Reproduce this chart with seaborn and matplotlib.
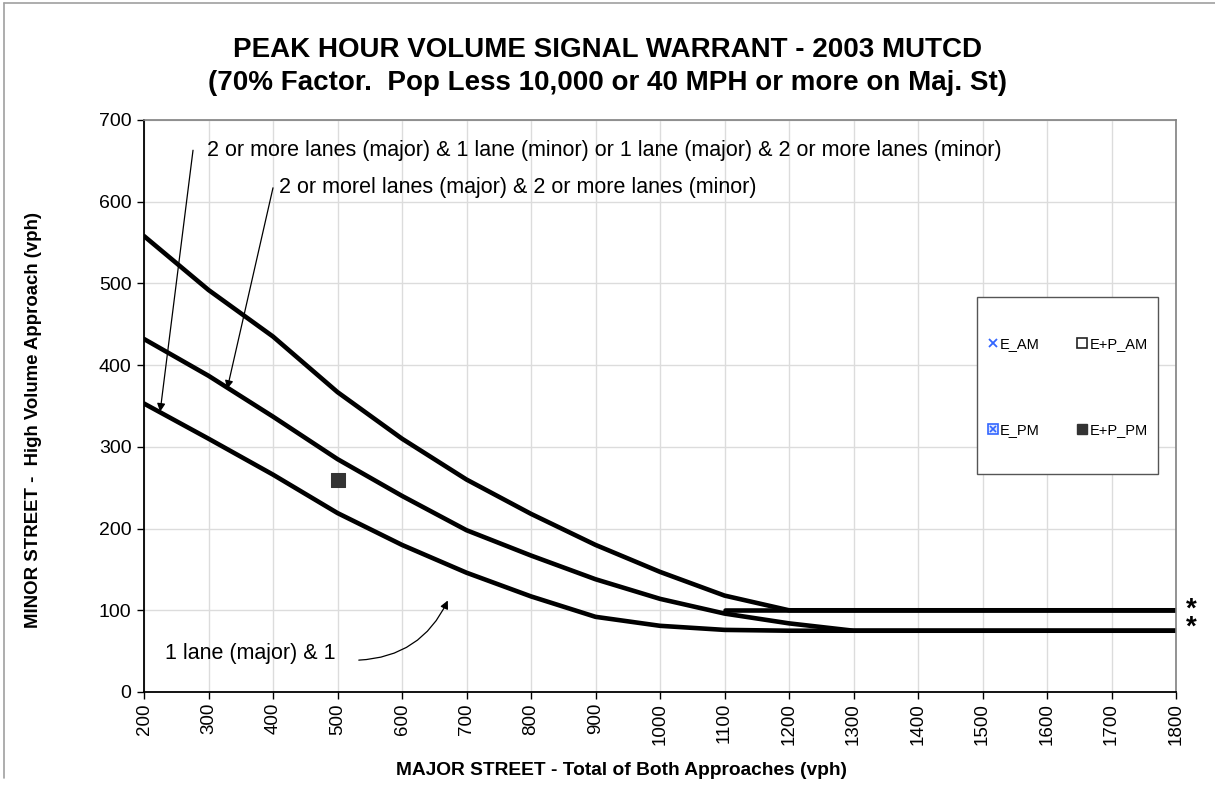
import matplotlib
matplotlib.use("Agg")
import matplotlib.pyplot as plt
from matplotlib.lines import Line2D
from matplotlib.patches import Rectangle
from matplotlib.legend_handler import HandlerTuple
import seaborn as sns
import pandas as pd

# Major street volume (vph), both approaches
major_vph = [200, 300, 400, 500, 600, 700, 800, 900, 1000,
             1100, 1200, 1300, 1400, 1500, 1600, 1700, 1800]
# Minor street high-volume approach thresholds (vph), 70% factor curves
curve_upper = [558, 492, 435, 367, 310, 260, 218, 180, 147,
               118, 100, 100, 100, 100, 100, 100, 100]
curve_middle = [432, 387, 337, 285, 240, 198, 167, 138, 114,
                96, 84, 75, 75, 75, 75, 75, 75]
curve_lower = [353, 310, 266, 219, 180, 146, 117, 92, 81,
               76, 75, 75, 75, 75, 75, 75, 75]
# Lower threshold segment
floor_major = [1100, 1800]
floor_minor = [100, 100]

# Observed intersection volume (E+P PM)
obs_major = [500]
obs_minor = [260]

sns.set_theme(style="white")
plt.rcParams["font.family"] = ["Liberation Sans", "DejaVu Sans"]
plt.rcParams.update({"text.color": "black", "axes.labelcolor": "black",
                     "xtick.color": "black", "ytick.color": "black"})

W, H = 1215, 788
fig = plt.figure(figsize=(W / 100, H / 100), dpi=100)
ax = fig.add_axes([144 / W, 1 - 692 / H, 1032 / W, 572 / H])

line_kw = dict(color="black", linewidth=3.3, legend=False, ax=ax)
for vals in (curve_upper, curve_middle, curve_lower):
    df = pd.DataFrame({"major": major_vph, "minor": vals})
    sns.lineplot(data=df, x="major", y="minor", **line_kw)
sns.lineplot(x=floor_major, y=floor_minor, **line_kw)

sns.scatterplot(x=obs_major, y=obs_minor, marker="s", s=90,
                color="#333333", edgecolor="#333333", ax=ax, zorder=5)

ax.set_xlim(200, 1800)
ax.set_ylim(0, 700)
ax.set_xticks(range(200, 1801, 100))
ax.set_yticks(range(0, 701, 100))
ax.tick_params(axis="x", labelrotation=90, labelsize=13.5, direction="out",
               length=5, width=1, color="black", bottom=True, pad=3)
ax.tick_params(axis="y", labelsize=14, direction="out", length=5, width=1,
               color="black", left=True, pad=4)
ax.grid(True, color="#dcdcdc", linewidth=1)
for side in ("left", "bottom"):
    ax.spines[side].set_color("black")
    ax.spines[side].set_linewidth(1.3)
for side in ("top", "right"):
    ax.spines[side].set_color("#808080")
    ax.spines[side].set_linewidth(1.2)

ax.set_xlabel("MAJOR STREET - Total of Both Approaches (vph)",
              fontsize=13.8, fontweight="bold")
ax.xaxis.set_label_coords((622 - 144) / 1032, -(762 - 692) / 572)
ax.set_ylabel("MINOR STREET -  High Volume Approach (vph)",
              fontsize=13.4, fontweight="bold")
ax.yaxis.set_label_coords(-(144 - 42) / 1032, (692 - 420) / 572)

fig.text(0.5, 1 - 50 / H, "PEAK HOUR VOLUME SIGNAL WARRANT - 2003 MUTCD",
         fontsize=20, fontweight="bold", ha="center", va="center")
fig.text(0.5, 1 - 83 / H,
         "(70% Factor.  Pop Less 10,000 or 40 MPH or more on Maj. St)",
         fontsize=20, fontweight="bold", ha="center", va="center")

# Curve callouts
arrow = dict(arrowstyle="-|>", color="black", lw=0.9, mutation_scale=12,
             shrinkA=0, shrinkB=0)
ax.annotate("", xy=(225, 343), xytext=(276, 663), arrowprops=arrow)
ax.text(298, 663, "2 or more lanes (major) & 1 lane (minor) or 1 lane (major) "
        "& 2 or more lanes (minor)", fontsize=15.5, va="center", ha="left")
ax.annotate("", xy=(329, 371), xytext=(400, 617), arrowprops=arrow)
ax.text(409, 617, "2 or morel lanes (major) & 2 or more lanes (minor)",
        fontsize=15.5, va="center", ha="left")
ax.annotate("", xy=(671, 112), xytext=(533, 39),
            arrowprops=dict(arrow, connectionstyle="arc3,rad=0.3"))
ax.text(233, 47, "1 lane (major) & 1", fontsize=15.5, va="center", ha="left")

# Footnote marks for the lower thresholds
ax.text(1823, 89.5, "*\n*", fontsize=20, fontweight="bold", ha="center",
        va="center", linespacing=0.62, clip_on=False)

# Legend box and entries
ax.add_patch(Rectangle((977 / W, 1 - 474 / H), 181 / W, 177 / H,
                       transform=fig.transFigure, facecolor="white",
                       edgecolor="#555555", linewidth=1.0, zorder=6,
                       clip_on=False))
blue = "#3366ff"
h_e_am = Line2D([], [], linestyle="none", marker="x", color=blue,
                markersize=6, markeredgewidth=1.3)
h_ep_am = Line2D([], [], linestyle="none", marker="s",
                 markerfacecolor="white", markeredgecolor="#222222",
                 markersize=6.5, markeredgewidth=1.2)
h_e_pm = (Line2D([], [], linestyle="none", marker="s",
                 markerfacecolor="#dfe8ff", markeredgecolor=blue,
                 markersize=7.5, markeredgewidth=1.2),
          Line2D([], [], linestyle="none", marker="x", color=blue,
                 markersize=5, markeredgewidth=1.2))
h_ep_pm = Line2D([], [], linestyle="none", marker="s", color="#333333",
                 markersize=7.5)
labels = ["E_AM", "E_PM", "E+P_AM", "E+P_PM"]
leg = ax.legend([h_e_am, h_e_pm, h_ep_am, h_ep_pm], labels,
                handler_map={tuple: HandlerTuple(ndivide=1, pad=0)},
                ncol=2, loc="center",
                bbox_to_anchor=(1068 / W, 1 - 387 / H),
                bbox_transform=fig.transFigure, fontsize=10.5,
                frameon=False, labelspacing=4.9, columnspacing=2.6,
                handlelength=0.6, handletextpad=0.2, borderaxespad=0)
leg.set_zorder(7)

# Page border lines
fig.add_artist(Line2D([4 / W, 4 / W], [1 - 778 / H, 1 - 3 / H],
                      color="#a0a0a0", lw=1.2))
fig.add_artist(Line2D([4 / W, 1.0], [1 - 3 / H, 1 - 3 / H],
                      color="#a0a0a0", lw=1.2))

fig.savefig("out.png", dpi=100)
